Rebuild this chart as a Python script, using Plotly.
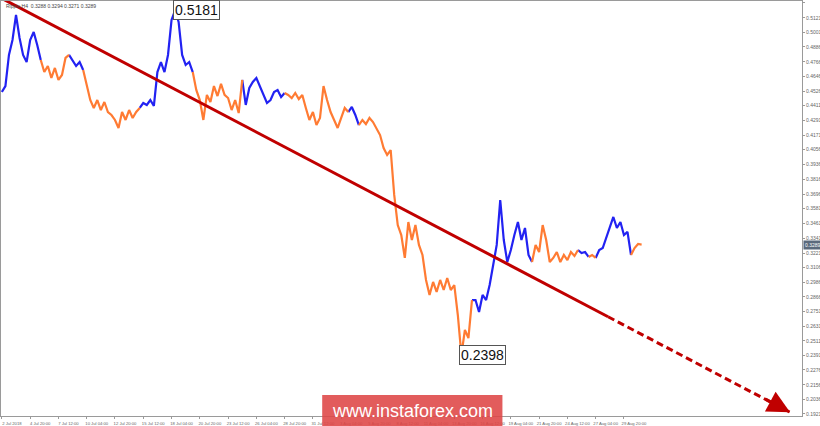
import plotly.graph_objects as go
import pandas as pd

# ---------------- data ----------------
symbol_caption = "Ripple,H4  0.3288 0.3294 0.3271 0.3289"
series_start = "2018-07-02 04:00"
series_step = "8h"

prices = [
    0.4522, 0.4570, 0.4821, 0.4942, 0.5144, 0.4958, 0.4821, 0.4764, 0.4942, 0.5007,
    0.4902, 0.4780, 0.4683, 0.4732, 0.4635, 0.4716, 0.4619, 0.4659, 0.4797, 0.4821,
    0.4780, 0.4732, 0.4764, 0.4700, 0.4578, 0.4457, 0.4393, 0.4457, 0.4376, 0.4441,
    0.4360, 0.4336, 0.4296, 0.4231, 0.4360, 0.4296, 0.4376, 0.4312, 0.4360, 0.4393,
    0.4433, 0.4417, 0.4457, 0.4409, 0.4683, 0.4764, 0.4683, 0.4821, 0.5104, 0.5181,
    0.5088, 0.4821, 0.4740, 0.4764, 0.4683, 0.4538, 0.4457, 0.4296, 0.4498, 0.4441,
    0.4570, 0.4489, 0.4587, 0.4498, 0.4473, 0.4376, 0.4457, 0.4352, 0.4619, 0.4417,
    0.4554, 0.4603, 0.4635, 0.4570, 0.4498, 0.4433, 0.4457, 0.4522, 0.4538, 0.4481,
    0.4514, 0.4498, 0.4473, 0.4514, 0.4465, 0.4498, 0.4393, 0.4296, 0.4360, 0.4255,
    0.4312, 0.4570, 0.4457, 0.4360, 0.4296, 0.4231, 0.4312, 0.4393, 0.4360, 0.4401,
    0.4336, 0.4255, 0.4296, 0.4263, 0.4312, 0.4279, 0.4231, 0.4174, 0.4069, 0.4013,
    0.4053, 0.3690, 0.3447, 0.3366, 0.3181, 0.3471, 0.3326, 0.3447, 0.3286, 0.3205,
    0.3003, 0.2882, 0.2987, 0.2906, 0.3003, 0.2922, 0.3019, 0.2922, 0.2962, 0.2720,
    0.2398, 0.2599, 0.2534, 0.2841, 0.2841, 0.2744, 0.2882, 0.2841, 0.2962, 0.3124,
    0.3286, 0.3649, 0.3326, 0.3148, 0.3245, 0.3366, 0.3471, 0.3326, 0.3423, 0.3205,
    0.3148, 0.3286, 0.3229, 0.3447, 0.3326, 0.3148, 0.3181, 0.3229, 0.3148, 0.3205,
    0.3164, 0.3229, 0.3197, 0.3245, 0.3221, 0.3229, 0.3189, 0.3205, 0.3181, 0.3245,
    0.3261, 0.3342, 0.3439, 0.3512, 0.3423, 0.3471, 0.3366, 0.3391, 0.3205, 0.3261,
    0.3294, 0.3289,
]

# indices where the wave colour changes (first = up wave, then alternating)
wave_pivots = [0, 11, 19, 23, 39, 54, 68, 80, 98, 101, 133, 150, 163, 166, 168, 178, 181]
wave_colors = ["#2222f2", "#ff7b33"]

price_ticks = [0.5241, 0.5121, 0.5001, 0.4886, 0.4766, 0.4646, 0.4526, 0.4411, 0.4291,
               0.4171, 0.4056, 0.3936, 0.3816, 0.3696, 0.3581, 0.3461, 0.3341, 0.3221,
               0.3106, 0.2986, 0.2866, 0.2751, 0.2631, 0.2511, 0.2391, 0.2276, 0.2156,
               0.2036, 0.1921]

time_tick_dates = ["2018-07-02 04:00", "2018-07-04 20:00", "2018-07-07 12:00", "2018-07-10 04:00",
                   "2018-07-12 20:00", "2018-07-15 12:00", "2018-07-18 04:00", "2018-07-20 20:00",
                   "2018-07-23 12:00", "2018-07-26 04:00", "2018-07-28 20:00", "2018-07-31 12:00",
                   "2018-08-03 04:00", "2018-08-05 20:00", "2018-08-08 12:00", "2018-08-11 04:00",
                   "2018-08-13 20:00", "2018-08-16 12:00", "2018-08-19 04:00", "2018-08-21 20:00",
                   "2018-08-24 12:00", "2018-08-27 04:00", "2018-08-29 20:00"]
time_tick_labels = ["2 Jul 2018", "4 Jul 20:00", "7 Jul 12:00", "10 Jul 04:00", "12 Jul 20:00",
                    "15 Jul 12:00", "18 Jul 04:00", "20 Jul 20:00", "23 Jul 12:00", "26 Jul 04:00",
                    "28 Jul 20:00", "31 Jul 12:00", "3 Aug 04:00", "5 Aug 20:00", "8 Aug 12:00",
                    "11 Aug 04:00", "13 Aug 20:00", "16 Aug 12:00", "19 Aug 04:00", "21 Aug 20:00",
                    "24 Aug 12:00", "27 Aug 04:00", "29 Aug 20:00"]

trend_dates = ["2018-07-02 00:00", "2018-08-28 08:00", "2018-09-14 12:00"]
trend_prices = [0.5285, 0.2706, 0.1934]

high_price = 0.5181
low_price = 0.2398
last_price = 0.3289

x_range = ["2018-07-02 02:00", "2018-09-15 15:00"]
y_range = [0.1904, 0.5257]

# ---------------- figure ----------------
dates = pd.date_range(series_start, periods=len(prices), freq=series_step)

fig = go.Figure()

for ci, color in enumerate(wave_colors):
    xs, ys = [], []
    for k in range(len(wave_pivots) - 1):
        if k % 2 != ci:
            continue
        a, b = wave_pivots[k], wave_pivots[k + 1]
        xs += list(dates[a:b + 1]) + [None]
        ys += prices[a:b + 1] + [None]
    fig.add_trace(go.Scatter(x=xs, y=ys, mode="lines",
                             line=dict(color=color, width=2.2),
                             hoverinfo="skip", showlegend=False))

red = "#c00000"
fig.add_trace(go.Scatter(x=trend_dates[:2], y=trend_prices[:2], mode="lines",
                         line=dict(color=red, width=3), showlegend=False, hoverinfo="skip"))
fig.add_trace(go.Scatter(x=trend_dates[1:], y=trend_prices[1:], mode="lines",
                         line=dict(color=red, width=3, dash="7px,4px"),
                         showlegend=False, hoverinfo="skip"))
fig.add_annotation(x=trend_dates[2], y=trend_prices[2], xref="x", yref="y",
                   ax=-26, ay=-14, showarrow=True, arrowhead=2, arrowsize=1.5,
                   arrowwidth=3, arrowcolor=red, text="", standoff=0)

hi_idx = prices.index(high_price)
lo_idx = prices.index(low_price)
for idx, val in [(hi_idx, high_price), (lo_idx, low_price)]:
    fig.add_annotation(x=dates[idx], y=val, xref="x", yref="y", text=f"{val:.4f}",
                       showarrow=False, xanchor="left", yanchor="middle", xshift=-2,
                       font=dict(family="Liberation Sans, Arial", size=14, color="#111"),
                       bgcolor="white", bordercolor="#555", borderwidth=1, borderpad=1)

fig.add_annotation(x=0.004, y=0.999, xref="paper", yref="paper", text=symbol_caption,
                   showarrow=False, xanchor="left", yanchor="top",
                   font=dict(family="Liberation Sans, Arial", size=5, color="#444"))

fig.add_annotation(x=1.0, y=last_price, xref="paper", yref="y", text=f"{last_price:.4f}",
                   showarrow=False, xanchor="left", yanchor="middle", xshift=1,
                   font=dict(family="Liberation Sans, Arial", size=5, color="white"),
                   bgcolor="#5b6a7c", borderpad=1)

# watermark
fig.add_shape(type="rect", xref="paper", yref="paper", x0=0.401, x1=0.626, y0=-0.03, y1=0.0506,
              fillcolor="rgba(222,70,70,0.88)", line=dict(width=0), layer="above")
fig.add_annotation(x=0.5135, y=0.011, xref="paper", yref="paper", text="www.instaforex.com",
                   showarrow=False, xanchor="center", yanchor="middle",
                   font=dict(family="Liberation Sans, Arial", size=18, color="white"))

fig.update_layout(
    width=820, height=426,
    margin=dict(l=1, r=18, t=1, b=10, autoexpand=False),
    paper_bgcolor="white", plot_bgcolor="white",
    showlegend=False,
    xaxis=dict(type="date", range=x_range, tickvals=time_tick_dates, ticktext=time_tick_labels,
               tickangle=0,
               showgrid=False, zeroline=False, showline=True, linecolor="#9a9a9a", linewidth=1,
               mirror=True, ticks="outside", ticklen=2, tickcolor="#9a9a9a",
               tickfont=dict(family="Liberation Sans, Arial", size=4.2, color="#666"),
               ticklabelshift=10, ticklabelstandoff=1, automargin=False),
    yaxis=dict(range=y_range, side="right", tickvals=price_ticks,
               ticktext=[f"{v:.4f}" for v in price_ticks],
               showgrid=False, zeroline=False, showline=True, linecolor="#9a9a9a", linewidth=1,
               mirror=True, ticks="outside", ticklen=2, tickcolor="#9a9a9a",
               tickfont=dict(family="Liberation Sans, Arial", size=5, color="#666"),
               automargin=False),
)

fig.write_html("out.html", config={"displayModeBar": False, "staticPlot": True},
               post_script="document.body.style.margin='0';document.body.style.padding='0';"
                           "document.body.style.overflow='hidden';")
